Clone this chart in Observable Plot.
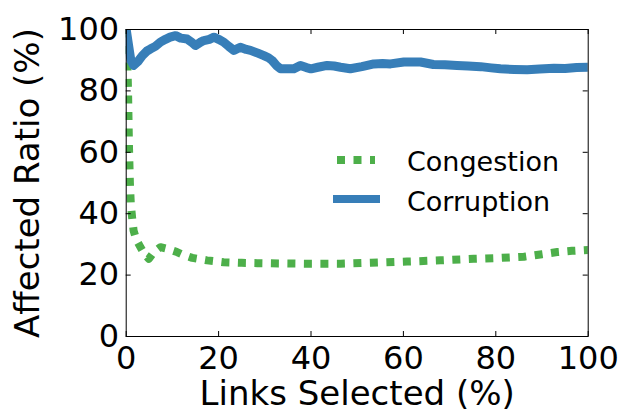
<!DOCTYPE html>
<html><head><meta charset="utf-8">
<script src="https://cdn.jsdelivr.net/npm/d3@7"></script>
<script src="https://cdn.jsdelivr.net/npm/@observablehq/plot@0.6"></script>
<style>
body{margin:0;background:#fff;}
#wrap{position:relative;width:621px;height:413px;font-family:"DejaVu Sans";}
#legend{position:absolute;left:0;top:0;}
</style></head><body><div id="wrap"></div>
<script>
const corruptionX = [0,0.5,1.0,1.6,2.5,3.5,4.5,5.3,6.3,7.4,8.5,9.5,10.7,11.8,13.2,14.2,15,16,16.8,18,19,20,21.1,22.2,23.3,24.7,26,26.9,28.5,29.8,30.8,31.6,32.5,33.4,35,36.3,37.7,39,40,41.5,43.5,45,46.4,48.5,51,53.6,55.5,57.2,60.1,63.7,66.5,69,71.6,74,76.7,79,81,84,86.8,89.5,92.6,95,97.5,100];
const corruptionY = [100,95,90,88.3,89.5,91.5,93,93.7,94.5,95.9,96.8,97.5,98,97.2,96.9,95.8,94.8,95.8,96.4,96.8,97.5,96.8,95.9,94.5,93.2,94.2,93.5,93.2,92.3,91.5,90.8,89.9,88.3,87.2,87.2,87.2,88.3,87.6,87.2,87.7,88.3,88.1,87.7,87.2,87.9,88.8,88.9,88.8,89.4,89.4,88.6,88.5,88.3,88.1,87.9,87.5,87.2,87.0,86.9,87.1,87.4,87.3,87.6,87.7];
const congestionX = [0,0.2,0.4,0.6,0.8,1.0,1.3,1.6,2.2,2.9,3.9,4.9,6.0,7.4,9,11,12.5,14.3,17.5,21.1,25,28.4,33,39.2,46.4,53,60.8,68,75.2,81,86.1,90,93.3,96.5,100];
const congestionY = [100,92,80,62,50,43,38.5,34.5,31.5,29.6,27,25.3,27.5,29.1,28.5,27.5,26.5,25.6,24.8,24.2,24,23.9,23.8,23.7,23.7,24.0,24.4,24.8,25.3,25.6,26,26.8,27.5,27.9,28.2];
const xTicks = [0,20,40,60,80,100];
const yTicks = [0,20,40,60,80,100];
const seriesNames = ["Congestion","Corruption"];
const seriesColors = ["#4daf4a","#377eb8"];
const xLabel = "Links Selected (%)";
const yLabel = "Affected Ratio (%)";

const congestion = congestionX.map((x,i)=>({x, y: congestionY[i]}));
const corruption = corruptionX.map((x,i)=>({x, y: corruptionY[i]}));

const W=621,H=413, mL=125.7, mR=33.3, mT=29, mB=77;
const plotW = W-mL-mR, plotH = H-mT-mB, tk = 5;
const dash = "8,8.5";

const plot = Plot.plot({
  width:W, height:H, marginLeft:mL, marginRight:mR, marginTop:mT, marginBottom:mB,
  style:{fontFamily:"DejaVu Sans", fontSize:"32px", color:"#000", background:"#fff"},
  x:{domain:[0,100]}, y:{domain:[0,100]},
  marks:[
    Plot.line(congestion,{x:"x",y:"y",stroke:seriesColors[0],strokeWidth:8,strokeDasharray:dash,strokeLinecap:"butt",clip:true}),
    Plot.line(corruption,{x:"x",y:"y",stroke:seriesColors[1],strokeWidth:9,strokeLinejoin:"round",clip:true}),
    Plot.frame({stroke:"#000", strokeWidth:1}),
    Plot.tickX(xTicks,{x:d=>d, insetTop: plotH - tk, stroke:"#000"}),
    Plot.tickX(xTicks,{x:d=>d, insetBottom: plotH - tk, stroke:"#000"}),
    Plot.tickY(yTicks,{y:d=>d, insetRight: plotW - tk, stroke:"#000"}),
    Plot.tickY(yTicks,{y:d=>d, insetLeft: plotW - tk, stroke:"#000"}),
    Plot.axisX({ticks:xTicks, tickSize:0, tickPadding:9.5, fontSize:32, label:null}),
    Plot.axisX({ticks:[], tickSize:0, fontSize:34, label:xLabel, labelAnchor:"center", labelArrow:"none", labelOffset:68.5}),
    Plot.axisY({ticks:yTicks, tickSize:0, tickPadding:7, fontSize:32, label:null}),
    Plot.axisY({ticks:[], tickSize:0, fontSize:34, label:yLabel, labelAnchor:"center", labelArrow:"none", labelOffset:111.5})
  ]
});
const wrap = document.getElementById("wrap");
wrap.appendChild(plot);

// legend overlay
const lg = d3.select(wrap).append("svg").attr("id","legend").attr("width",W).attr("height",H);
const rows = [{y:160, ty:171, x1:337, x2:375, dash:dash},{y:199, ty:211, x1:333, x2:380, dash:null}];
seriesNames.forEach((name,i)=>{
  const r = rows[i];
  lg.append("line").attr("x1",r.x1).attr("x2",r.x2).attr("y1",r.y).attr("y2",r.y)
    .attr("stroke",seriesColors[i]).attr("stroke-width",8).attr("stroke-dasharray",r.dash);
  lg.append("text").attr("x",407).attr("y",r.ty).attr("font-family","DejaVu Sans").attr("font-size",27)
    .attr("fill","#000").text(name);
});
</script></body></html>
